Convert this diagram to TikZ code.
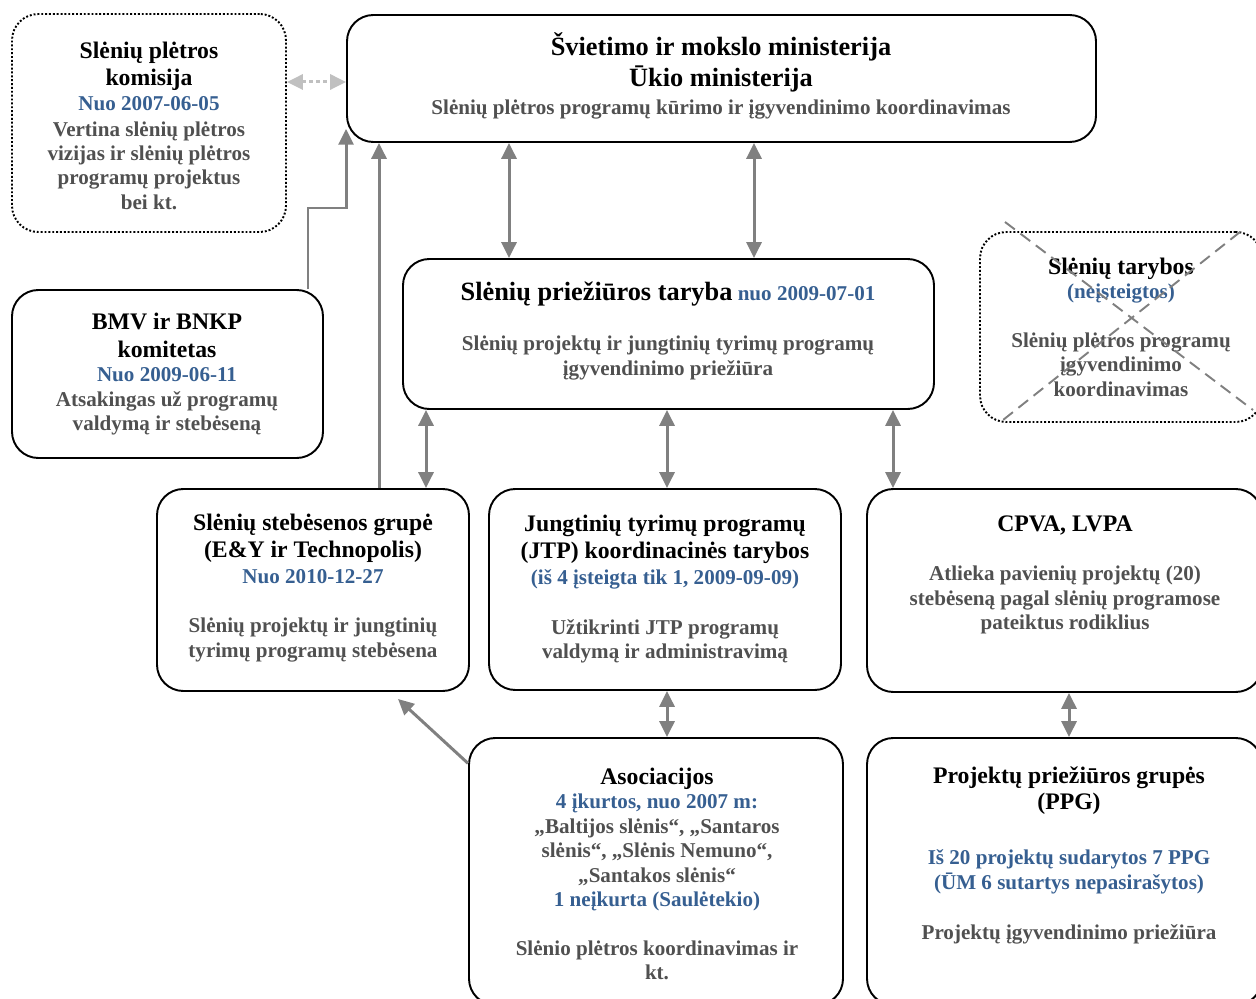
\documentclass[tikz,border=0pt]{standalone}
\usepackage{fontspec}
\setmainfont{Liberation Serif}
\usepackage{xcolor}
\usetikzlibrary{arrows.meta,fit,calc}

\definecolor{dateblue}{RGB}{54,95,145}
\definecolor{bodygray}{RGB}{80,80,80}
\definecolor{arrowgray}{RGB}{128,128,128}
\definecolor{palegray}{RGB}{192,192,192}

\newcommand\boxtitle[1]{{\fontsize{13.5}{15}\selectfont\color{black}#1}}
\newcommand\boxdate[1]{{\color{dateblue}#1}}

\begin{document}
\begin{tikzpicture}[x=0.02cm, y=-0.02cm,
    box/.style={draw, line width=1.1pt, rounded corners=15pt, inner sep=0pt},
    dotbox/.style={box, dash pattern=on 1.1pt off 1.1pt},
    txt/.style={align=center, inner sep=0pt, text=bodygray,
      font=\bfseries\fontsize{12}{13.9}\selectfont},
    link/.style={draw=arrowgray, line width=1.7pt, -{Triangle[length=9pt,width=8.5pt]}},
    dbl/.style={link, {Triangle[length=9pt,width=8.5pt]}-{Triangle[length=9pt,width=8.5pt]}},
    dimlink/.style={dbl, draw=palegray, dash pattern=on 2pt off 2pt},
    crossline/.style={draw=gray, line width=1.1pt, dash pattern=on 7pt off 4pt}]
  \useasboundingbox (0,0) rectangle (1256,999);
  \clip (0,0) rectangle (1256,999);

  % boxes
  \node[dotbox, fit={(12,14) (286,232)}] (komisija) {};
  \node[box, fit={(347,15) (1096,142)}] (ministry) {};
  \node[dotbox, fit={(980,232) (1262,422)}] (tarybos) {};
  \node[box, fit={(12,290) (323,458)}] (bmv) {};
  \node[box, fit={(403,259) (934,409)}] (taryba) {};
  \node[box, fit={(157,489) (469,691)}] (steb) {};
  \node[box, fit={(489,489) (841,690)}] (jtp) {};
  \node[box, fit={(867,489) (1262,692)}] (cpva) {};
  \node[box, fit={(469,738) (843,1005)}] (asoc) {};
  \node[box, fit={(867,738) (1262,1005)}] (ppg) {};

  % texts
  \node[txt] (komisija-t) at (149,126) {\boxtitle{Slėnių plėtros}\\[1.4pt]\boxtitle{komisija}\\\boxdate{Nuo 2007-06-05}\\[0.8pt]Vertina slėnių plėtros\\vizijas ir slėnių plėtros\\programų\ projektus\\bei kt.};
  \node[txt, font=\bfseries\fontsize{12}{15.9}\selectfont] (ministry-t) at (721,76)
    {{\fontsize{15}{15.9}\selectfont\color{black}Švietimo ir mokslo ministerija}\\[1.7pt]{\fontsize{15}{15.9}\selectfont\color{black}Ūkio ministerija}\\Slėnių plėtros programų kūrimo ir įgyvendinimo koordinavimas};
  \node[txt] (tarybos-t) at (1121,327) {\boxtitle{Slėnių tarybos}\\\boxdate{(neįsteigtos)}\\[13.9pt]Slėnių plėtros programų\\įgyvendinimo\\koordinavimas};
  \node[txt] (bmv-t) at (167,374) {\boxtitle{BMV ir BNKP}\\[2pt]\boxtitle{komitetas}\\\boxdate{Nuo 2009-06-11}\\Atsakingas už programų\\valdymą ir stebėseną};
  \node[txt] (taryba-t) at (668,331) {{\fontsize{15}{15}\selectfont\color{black}Slėnių priežiūros taryba} \boxdate{nuo 2009-07-01}\\[14.5pt]Slėnių projektų ir jungtinių tyrimų programų\\įgyvendinimo priežiūra};
  \node[txt] (steb-t) at (313,588) {\boxtitle{Slėnių stebėsenos grupė}\\[1.4pt]\boxtitle{(E\&Y ir Technopolis)}\\[0.8pt]\boxdate{Nuo 2010-12-27}\\[14.5pt]Slėnių projektų ir jungtinių\\tyrimų programų stebėsena};
  \node[txt] (jtp-t) at (665,589) {\boxtitle{Jungtinių tyrimų programų}\\[1.4pt]\boxtitle{(JTP) koordinacinės tarybos}\\[0.8pt]\boxdate{(iš 4 įsteigta tik 1, 2009-09-09)}\\[14.5pt]Užtikrinti JTP programų\\valdymą ir administravimą};
  \node[txt] (cpva-t) at (1065,575) {\boxtitle{CPVA, LVPA}\\[13.9pt]Atlieka pavienių projektų (20)\\stebėseną pagal slėnių programose\\pateiktus rodiklius};
  \node[txt] (asoc-t) at (657,874) {\boxtitle{Asociacijos}\\\boxdate{4 įkurtos, nuo 2007 m:}\\„Baltijos slėnis“, „Santaros\\slėnis“, „Slėnis Nemuno“,\\„Santakos slėnis“\\\boxdate{1 neįkurta (Saulėtekio)}\\[13.9pt]Slėnio plėtros koordinavimas ir\\kt.};
  \node[txt] (ppg-t) at (1069,855) {\boxtitle{Projektų priežiūros grupės}\\[1.4pt]\boxtitle{(PPG)}\\[17.3pt]\boxdate{Iš 20 projektų sudarytos 7 PPG}\\\boxdate{(ŪM 6 sutartys nepasirašytos)}\\[14.5pt]Projektų įgyvendinimo priežiūra};

  % not founded
  \draw[crossline] (1005,222) -- (1253,410);
  \draw[crossline] (1240,232) -- (1003,420);

  % links
  \draw[dimlink] (komisija.east |- 0,82) -- (ministry.west |- 0,82);
  \draw[link] (bmv.north -| 308,0) |- (ministry.south west |- 0,208) -- ([yshift=8pt]ministry.south west);
  \draw[link] (steb.north -| 379,0) -- (ministry.south -| 379,0);
  \draw[dbl] (ministry.south -| 509,0) -- (taryba.north -| 509,0);
  \draw[dbl] (ministry.south -| 754,0) -- (taryba.north -| 754,0);
  \draw[dbl] (taryba.south -| 426,0) -- (steb.north -| 426,0);
  \draw[dbl] (taryba.south -| 667,0) -- (jtp.north -| 667,0);
  \draw[dbl] (taryba.south -| 893,0) -- (cpva.north -| 893,0);
  \draw[dbl] (jtp.south -| 667,0) -- (asoc.north -| 667,0);
  \draw[dbl] (cpva.south -| 1069,0) -- (ppg.north -| 1069,0);
  \draw[link] ([yshift=-15pt]asoc.north west) -- ($(steb.south -| 398,0)+(0,7)$);
\end{tikzpicture}
\end{document}
